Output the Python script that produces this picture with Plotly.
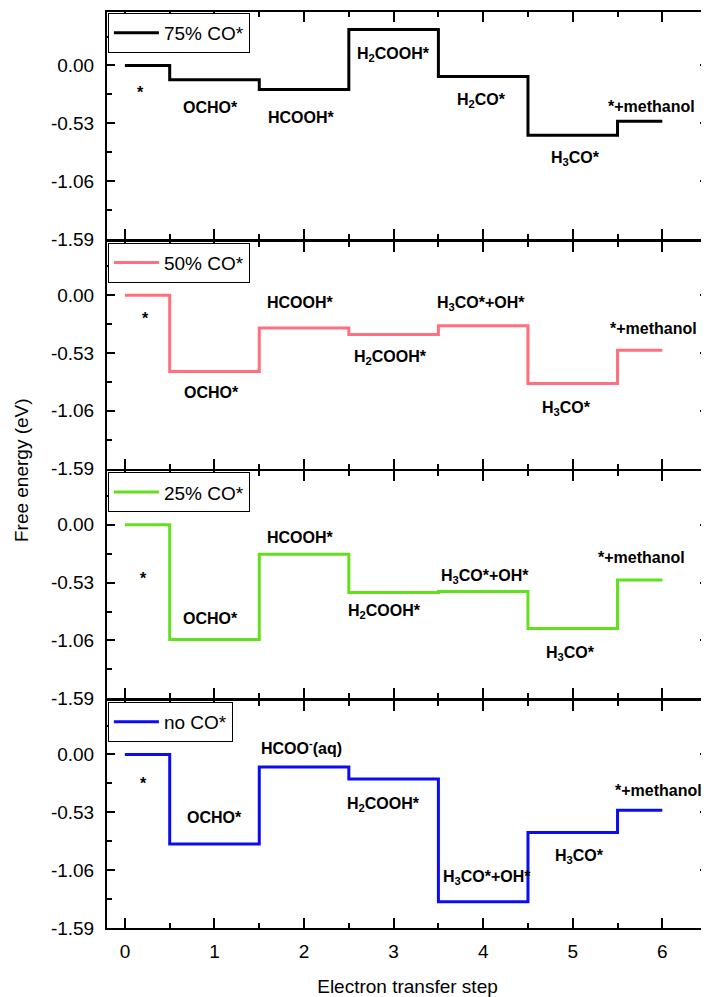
import plotly.graph_objects as go
from plotly.subplots import make_subplots

# ---------------- data ----------------
steps = [0, 1, 2, 3, 4, 5, 6]
series_names = ["75% CO*", "50% CO*", "25% CO*", "no CO*"]

energy_75 = [0.0, -0.13, -0.22, 0.33, -0.10, -0.64, -0.51]
energy_50 = [0.0, -0.70, -0.30, -0.36, -0.28, -0.81, -0.505]
energy_25 = [0.0, -1.05, -0.27, -0.62, -0.61, -0.95, -0.505]
energy_no = [0.0, -0.82, -0.115, -0.225, -1.35, -0.715, -0.51]

labels_75 = ["*", "OCHO*", "HCOOH*", "H<sub>2</sub>COOH*", "H<sub>2</sub>CO*",
             "H<sub>3</sub>CO*", "*+methanol"]
labels_50 = ["*", "OCHO*", "HCOOH*", "H<sub>2</sub>COOH*", "H<sub>3</sub>CO*+OH*",
             "H<sub>3</sub>CO*", "*+methanol"]
labels_25 = ["*", "OCHO*", "HCOOH*", "H<sub>2</sub>COOH*", "H<sub>3</sub>CO*+OH*",
             "H<sub>3</sub>CO*", "*+methanol"]
labels_no = ["*", "OCHO*", "HCOO<sup>-</sup>(aq)", "H<sub>2</sub>COOH*",
             "H<sub>3</sub>CO*+OH*", "H<sub>3</sub>CO*", "*+methanol"]

# label anchor positions (data units)
label_x_75 = [0.17, 0.96, 1.97, 3.00, 3.98, 5.03, 5.88]
label_y_75 = [-0.25, -0.385, -0.48, 0.10, -0.32, -0.85, -0.38]
label_x_50 = [0.23, 0.97, 1.96, 2.96, 3.97, 4.93, 5.90]
label_y_50 = [-0.21, -0.89, -0.07, -0.57, -0.08, -1.04, -0.31]
label_x_25 = [0.21, 0.95, 1.96, 2.90, 4.02, 4.97, 5.77]
label_y_25 = [-0.49, -0.86, -0.12, -0.79, -0.47, -1.18, -0.30]
label_x_no = [0.21, 1.00, 1.97, 2.89, 4.04, 5.08, 5.96]
label_y_no = [-0.27, -0.58, 0.07, -0.46, -1.13, -0.935, -0.33]

y_tick_vals = [0.0, -0.53, -1.06, -1.59]
y_tick_text = ["0.00", "-0.53", "-1.06", "-1.59"]

colors = ["#000000", "#ff6f7d", "#62e01c", "#0c0cf2"]

# ---------------- figure ----------------
FONT = "Liberation Sans, Arial, sans-serif"
energies = [energy_75, energy_50, energy_25, energy_no]
labels = [labels_75, labels_50, labels_25, labels_no]
lxs = [label_x_75, label_x_50, label_x_25, label_x_no]
lys = [label_y_75, label_y_50, label_y_25, label_y_no]

fig = make_subplots(rows=4, cols=1, shared_xaxes=True, vertical_spacing=0.0029)

# step edges: each step spans +-0.5 around its index, clipped to [first, last]
x_edges = [steps[0]] + [s - 0.5 for s in steps[1:]] + [steps[-1]]

legend_names = ["legend", "legend2", "legend3", "legend4"]
for i, (name, en) in enumerate(zip(series_names, energies)):
    y_pts = list(en) + [en[-1]]
    fig.add_trace(go.Scatter(
        x=x_edges, y=y_pts, mode="lines", line_shape="hv",
        line=dict(color=colors[i], width=3), name=name,
        legend=legend_names[i], showlegend=True,
    ), row=i + 1, col=1)
    for t, lx, ly in zip(labels[i], lxs[i], lys[i]):
        fig.add_annotation(x=lx, y=ly, text="<b>" + t + "</b>", showarrow=False,
                           font=dict(family=FONT, size=16, color="black"),
                           xref="x" if i == 0 else f"x{i+1}",
                           yref="y" if i == 0 else f"y{i+1}")

xaxis_common = dict(
    range=[-0.2, 6.51], showline=True, linewidth=2, linecolor="black",
    mirror="ticks", ticks="inside", ticklen=10, tickwidth=1.5, tickcolor="black",
    tick0=0, dtick=1, showgrid=False, zeroline=False, automargin=False,
    minor=dict(ticks="inside", dtick=0.5, tick0=0, ticklen=5, tickwidth=1.5,
               tickcolor="black", showgrid=False),
    tickfont=dict(family=FONT, size=19, color="black"),
    ticklabelstandoff=5,
)
yaxis_common = dict(
    range=[-1.59, 0.49], showline=True, linewidth=2, linecolor="black",
    mirror="ticks", ticks="inside", ticklen=8, tickwidth=1.5, tickcolor="black",
    tickmode="array", tickvals=y_tick_vals, ticktext=y_tick_text,
    showgrid=False, zeroline=False, automargin=False,
    minor=dict(ticks="inside", tickmode="array",
               tickvals=[0.265, -0.265, -0.795, -1.325],
               ticklen=5, tickwidth=1.5, tickcolor="black", showgrid=False),
    tickfont=dict(family=FONT, size=19, color="black"),
    ticklabelstandoff=7,
)

for r in range(1, 5):
    fig.update_xaxes(**xaxis_common, showticklabels=(r == 4), row=r, col=1)
    fig.update_yaxes(**yaxis_common, row=r, col=1)

fig.update_xaxes(title=dict(text="Electron transfer step",
                            font=dict(family=FONT, size=19, color="black"),
                            standoff=19), row=4, col=1)

# per-panel legends in the top-left corner of each panel
layout_legends = {}
for i, ln in enumerate(legend_names):
    yax = fig.layout["yaxis" if i == 0 else f"yaxis{i+1}"]
    top = yax.domain[1]
    layout_legends[ln] = dict(
        x=0.0015, y=top - 0.001, xanchor="left", yanchor="top",
        bordercolor="black", borderwidth=1, bgcolor="white",
        font=dict(family=FONT, size=19, color="black"),
        itemwidth=45, tracegroupgap=0,
    )
fig.update_layout(**layout_legends)

fig.add_annotation(text="Free energy (eV)", xref="paper", yref="paper",
                   x=-0.143, y=0.5, xanchor="center", yanchor="middle",
                   textangle=-90, showarrow=False,
                   font=dict(family=FONT, size=19, color="black"))

fig.update_layout(
    width=701, height=989,
    margin=dict(l=99, r=1, t=4, b=69, autoexpand=False),
    plot_bgcolor="white", paper_bgcolor="white",
    font=dict(family=FONT, size=19, color="black"),
)

fig.write_html("out.html")
